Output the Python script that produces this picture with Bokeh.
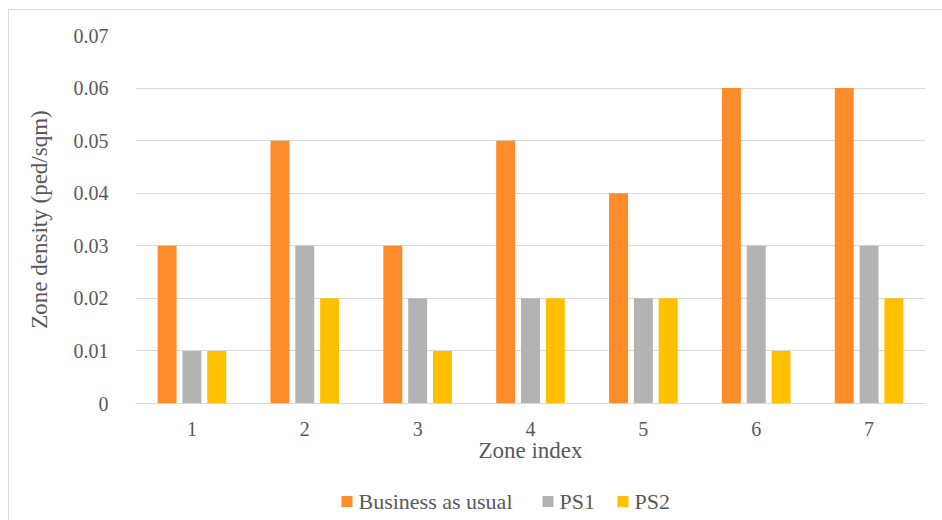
from bokeh.plotting import figure
from bokeh.layouts import column
from bokeh.models import FactorRange, Range1d, FixedTicker, ColumnDataSource
from bokeh.core.properties import value
from bokeh.transform import dodge
from bokeh.embed import file_html
from bokeh.resources import INLINE

zones = ["1", "2", "3", "4", "5", "6", "7"]
bau = [0.03, 0.05, 0.03, 0.05, 0.04, 0.06, 0.06]
ps1 = [0.01, 0.03, 0.02, 0.02, 0.02, 0.03, 0.03]
ps2 = [0.01, 0.02, 0.01, 0.02, 0.02, 0.01, 0.02]
series_names = ["Business as usual", "PS1", "PS2"]
y_ticks = [0, 0.01, 0.02, 0.03, 0.04, 0.05, 0.06, 0.07]
y_tick_labels = ["0", "0.01", "0.02", "0.03", "0.04", "0.05", "0.06", "0.07"]

colors = ["#FF8C2B", "#B3B3B3", "#FFC000"]
FONT = "Liberation Serif"
LEG_FONT = "'Liberation Serif', 'Times New Roman', serif"
TXT = "#595959"
GRID = "#D9D9D9"

src = ColumnDataSource(data=dict(zone=zones, bau=bau, ps1=ps1, ps2=ps2))

MB_L, MB_R = 126, 18
p = figure(x_range=FactorRange(*zones), y_range=Range1d(0, 0.07),
           width=934, height=465, output_backend="svg", toolbar_location=None,
           min_border_left=MB_L, min_border_right=MB_R, min_border_top=25, min_border_bottom=72)
p.outline_line_color = None
p.background_fill_color = "white"
p.border_fill_color = "white"

bw = 0.168
off = 0.22
p.vbar(x=dodge("zone", -off, range=p.x_range), top="bau", width=bw, source=src,
       fill_color=colors[0], line_color=None)
p.vbar(x=dodge("zone", 0, range=p.x_range), top="ps1", width=bw, source=src,
       fill_color=colors[1], line_color=None)
p.vbar(x=dodge("zone", off, range=p.x_range), top="ps2", width=bw, source=src,
       fill_color=colors[2], line_color=None)

p.xgrid.grid_line_color = None
p.ygrid.grid_line_color = GRID
p.ygrid.grid_line_width = 1
p.yaxis.ticker = FixedTicker(ticks=y_ticks)
p.yaxis.major_label_overrides = {t: l for t, l in zip(y_ticks, y_tick_labels)}

for ax in (p.xaxis[0], p.yaxis[0]):
    ax.major_tick_line_color = None
    ax.minor_tick_line_color = None
    ax.major_label_text_font = FONT
    ax.major_label_text_color = TXT
    ax.major_label_text_font_size = "20px"
    ax.axis_label_text_font = FONT
    ax.axis_label_text_color = TXT
    ax.axis_label_text_font_style = "normal"

p.yaxis.axis_line_color = None
p.yaxis.major_label_standoff = 21
p.yaxis.axis_label = "Zone density (ped/sqm)"
p.yaxis.axis_label_text_font_size = "23px"
p.yaxis.axis_label_standoff = 19

p.xaxis.axis_line_color = GRID
p.xaxis.axis_line_width = 1
p.xaxis.major_label_standoff = 12
p.xaxis.axis_label = "Zone index"
p.xaxis.axis_label_text_font_size = "23px"
p.xaxis.axis_label_standoff = -1
p.xaxis.group_text_font_size = "0px"

# legend strip below the chart; its frame is aligned with the chart's frame
FRAME_W = 934 - MB_L - MB_R
LEG_H = 52
leg = figure(width=934, height=LEG_H, output_backend="svg", toolbar_location=None,
             x_range=Range1d(0, FRAME_W), y_range=Range1d(0, LEG_H),
             min_border_left=MB_L, min_border_right=MB_R, min_border_top=0, min_border_bottom=0)
leg.axis.visible = False
leg.grid.visible = False
leg.outline_line_color = None
leg.background_fill_color = "white"
leg.border_fill_color = "white"

swatch_left = [206, 407, 482]   # layout positions of legend swatches (px from frame left)
sw = 11
gap = 6
mid = LEG_H - 26
leg_src = ColumnDataSource(data=dict(
    sx=[x + sw / 2 for x in swatch_left],
    tx=[x + sw + gap for x in swatch_left],
    y=[mid] * 3,
    label=series_names,
    color=colors,
))
leg.rect(x="sx", y="y", width=sw, height=sw, source=leg_src, fill_color="color", line_color=None)
leg.text(x="tx", y="y", text="label", source=leg_src, text_font=value(LEG_FONT),
         text_font_size="22px", text_color=TXT, text_baseline="middle", text_align="left",
         text_font_style="normal")

layout = column(p, leg, spacing=0)
layout.margin = (9, 0, 0, 8)
layout.styles = {"border-top": "1px solid #D9D9D9", "border-left": "1px solid #D9D9D9"}

open("out.html", "w").write(file_html(layout, INLINE))
